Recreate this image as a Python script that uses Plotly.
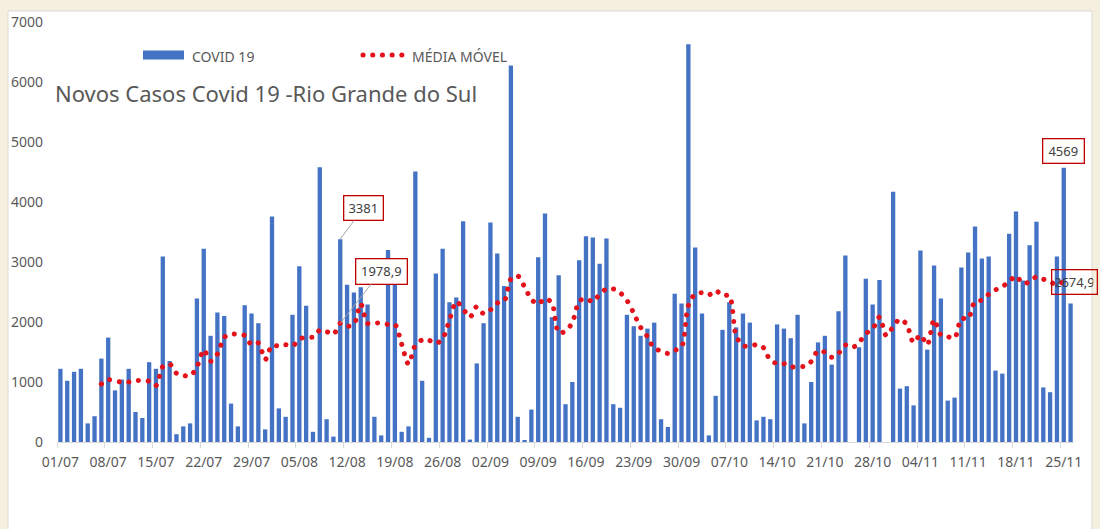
import pandas as pd
import plotly.graph_objects as go

# ---------------- data ----------------
start_date = "2020-07-01"

novos_casos = [
    1220, 1020, 1170, 1220, 310, 430, 1390,
    1740, 860, 1040, 1220, 500, 400, 1330,
    1220, 3090, 1350, 130, 260, 310, 2390,
    3220, 1770, 2160, 2100, 640, 260, 2280,
    2140, 1980, 210, 3760, 560, 420, 2120,
    2930, 2270, 170, 4580, 380, 90, 3381,
    2620, 2490, 2580, 2290, 420, 110, 3200,
    2640, 170, 260, 4510, 1020, 70, 2810,
    3220, 2330, 2410, 3680, 40, 1310, 1980,
    3660, 3140, 2600, 6275, 420, 20, 540,
    3080, 3810, 2080, 2780, 630, 1000, 3030,
    3430, 3410, 2970, 3390, 630, 570, 2120,
    1930, 1770, 1890, 1990, 380, 250, 2470,
    2310, 6630, 3240, 2140, 110, 770, 1870,
    2330, 1910, 2140, 1990, 360, 420, 380,
    1960, 1890, 1730, 2120, 310, 1000, 1660,
    1770, 1290, 2180, 3110, 0, 1580, 2720,
    2290, 2700, 0, 4170, 890, 930, 610,
    3190, 1540, 2940, 2390, 690, 740, 2910,
    3160, 3590, 3060, 3090, 1190, 1140, 3470,
    3840, 2690, 3280, 3670, 910, 830, 3090,
    4569, 2310,
]

# moving average, starting on 07/07
media_movel = [
    966, 1040, 1017, 999, 999, 1026, 1021, 1013, 939, 1257,
    1301, 1146, 1111, 1099, 1250, 1536, 1347, 1463, 1744, 1799,
    1791, 1776, 1621, 1651, 1373, 1610, 1599, 1621, 1599, 1711,
    1753, 1747, 1864, 1839, 1791, 1978.9, 1927, 1959, 2303, 1976,
    1982, 1984, 1959, 1961, 1630, 1299, 1616, 1701, 1696, 1640,
    1723, 2031, 2339, 2220, 2080, 2257, 2139, 2201, 2317, 2344,
    2715, 2769, 2585, 2379, 2296, 2392, 2318, 1819, 1849, 1989,
    2344, 2394, 2337, 2464, 2551, 2551, 2490, 2360, 2146, 1911,
    1757, 1557, 1521, 1476, 1526, 1580, 2274, 2467, 2489, 2450,
    2524, 2439, 2441, 1767, 1610, 1589, 1624, 1574, 1361, 1309,
    1306, 1247, 1266, 1259, 1341, 1524, 1497, 1411, 1476, 1617,
    1573, 1656, 1807, 1881, 2083, 1771, 1923, 2050, 1957, 1656,
    1784, 1619, 2039, 1784, 1756, 1729, 2057, 2053, 2346, 2363,
    2463, 2534, 2591, 2671, 2769, 2640, 2671, 2754, 2714, 2670,
    2616, 2674.9, 2666,
]

tick_labels = ["01/07", "08/07", "15/07", "22/07", "29/07", "05/08", "12/08",
               "19/08", "26/08", "02/09", "09/09", "16/09", "23/09", "30/09",
               "07/10", "14/10", "21/10", "28/10", "04/11", "11/11", "18/11",
               "25/11"]

y_ticks = [0, 1000, 2000, 3000, 4000, 5000, 6000, 7000]

title_text = "Novos Casos Covid 19 -Rio Grande do Sul"
name_bars = "COVID 19"
name_ma = "MÉDIA MÓVEL"

# ---------------- styling / layout constants ----------------
W, H = 1100, 529
ML, MR, MT, MB = 57, 26, 22, 87
PW, PH = W - ML - MR, H - MT - MB

BLUE = "#4472C4"
RED = "#E3121B"
BOXRED = "#C00000"
GRAY_TXT = "#595959"
AX_GRAY = "#D9D9D9"
BEIGE = "#F5EFDF"
FONT = "Noto Sans"
DOT_DASH = "0.1px,9.6px"
DOT_W = 5


def px(x):
    return (x - ML) / PW


def py(y):
    return (H - MB - y) / PH


dates = pd.date_range(start_date, periods=len(novos_casos), freq="D")
ma_dates = dates[len(dates) - len(media_movel):]
half_day = pd.Timedelta(hours=12)

fig = go.Figure()
fig.add_trace(go.Bar(
    x=dates, y=novos_casos, name=name_bars,
    marker=dict(color=BLUE, line=dict(width=0)),
    showlegend=False,
))
fig.add_trace(go.Scatter(
    x=ma_dates, y=media_movel, name=name_ma, mode="lines",
    line=dict(color=RED, width=DOT_W, dash=DOT_DASH, shape="spline", smoothing=0.8),
    showlegend=False,
))

i_3381 = novos_casos.index(3381)
i_last = len(novos_casos) - 2  # 25/11
ma_at = dict(zip(ma_dates, media_movel))

ann_font = dict(family=FONT, size=13, color="#404040")
annotations = [
    dict(x=px(53), y=py(93), xref="paper", yref="paper", text=title_text,
         showarrow=False, xanchor="left", yanchor="middle",
         font=dict(family=FONT, size=22, color=GRAY_TXT)),
    dict(x=px(190), y=py(56), xref="paper", yref="paper", text=name_bars,
         showarrow=False, xanchor="left", yanchor="middle",
         font=dict(family=FONT, size=14, color=GRAY_TXT)),
    dict(x=px(410), y=py(56), xref="paper", yref="paper", text=name_ma,
         showarrow=False, xanchor="left", yanchor="middle",
         font=dict(family=FONT, size=14, color=GRAY_TXT)),
    dict(x=dates[i_3381], y=novos_casos[i_3381], text="3381",
         showarrow=True, arrowhead=0, arrowwidth=1, arrowcolor="#A6A6A6",
         ax=23, ay=-31, bordercolor=BOXRED, borderwidth=1.3, borderpad=3,
         bgcolor="white", width=32, height=17, font=ann_font),
    dict(x=dates[i_3381], y=ma_at[dates[i_3381]], text="1978,9",
         showarrow=True, arrowhead=0, arrowwidth=1, arrowcolor="#A6A6A6",
         ax=41, ay=-52, bordercolor=BOXRED, borderwidth=1.3, borderpad=3,
         bgcolor="white", width=44, height=18, font=ann_font),
    dict(x=dates[i_last], y=novos_casos[i_last], text="4569",
         showarrow=False, yanchor="bottom", yshift=4,
         bordercolor=BOXRED, borderwidth=1.3, borderpad=3,
         bgcolor="white", width=34, height=17, font=ann_font),
    dict(x=dates[i_last], y=ma_at[dates[i_last]], text="2674,9",
         showarrow=False, xshift=11,
         bordercolor=BOXRED, borderwidth=1.3, borderpad=3,
         bgcolor="rgba(255,255,255,0)", width=38, height=17, font=ann_font),
]

shapes = [
    dict(type="rect", xref="paper", yref="paper",
         x0=px(8), x1=px(1092), y0=py(540), y1=py(11),
         fillcolor="white", line=dict(color=AX_GRAY, width=1), layer="below"),
    dict(type="rect", xref="paper", yref="paper",
         x0=px(143), x1=px(184), y0=py(59.5), y1=py(50.5),
         fillcolor=BLUE, line=dict(width=0)),
    dict(type="line", xref="paper", yref="paper",
         x0=px(363), x1=px(404), y0=py(55), y1=py(55),
         line=dict(color=RED, width=DOT_W, dash=DOT_DASH)),
]

fig.update_layout(
    width=W, height=H,
    margin=dict(l=ML, r=MR, t=MT, b=MB, pad=0),
    paper_bgcolor=BEIGE, plot_bgcolor="white",
    bargap=0.37,
    font=dict(family=FONT, color=GRAY_TXT),
    annotations=annotations,
    shapes=shapes,
    showlegend=False,
    xaxis=dict(
        type="date",
        range=[dates[0] - half_day, dates[-1] + half_day],
        tickmode="array", tickvals=list(dates[::7]), ticktext=tick_labels,
        ticks="", showgrid=False, zeroline=False,
        showline=True, linecolor=AX_GRAY, linewidth=1,
        tickfont=dict(family=FONT, size=14, color=GRAY_TXT),
        ticklabelstandoff=7,
        minor=dict(ticks="outside", ticklen=5, tickwidth=1, tickcolor=AX_GRAY,
                   tickmode="linear", tick0=dates[0] - half_day,
                   dtick=7 * 86400000, showgrid=False),
    ),
    yaxis=dict(
        range=[y_ticks[0], y_ticks[-1]],
        tickmode="array", tickvals=y_ticks,
        ticks="", showgrid=False, zeroline=False, showline=False,
        tickfont=dict(family=FONT, size=14, color=GRAY_TXT),
        ticklabelstandoff=13,
    ),
)

round_dots_js = """
document.body.style.margin='0';
(function(){
  var gd = document.getElementById('{plot_id}');
  function roundCaps(){
    document.querySelectorAll('.scatterlayer path.js-line, .shapelayer path').forEach(function(p){
      var d = p.style.strokeDasharray;
      if (d && d !== 'none') { p.style.strokeLinecap = 'round'; }
    });
  }
  roundCaps();
  if (gd && gd.on) { gd.on('plotly_afterplot', roundCaps); }
})();
"""

fig.write_html("out.html", config={"displayModeBar": False}, post_script=round_dots_js)
